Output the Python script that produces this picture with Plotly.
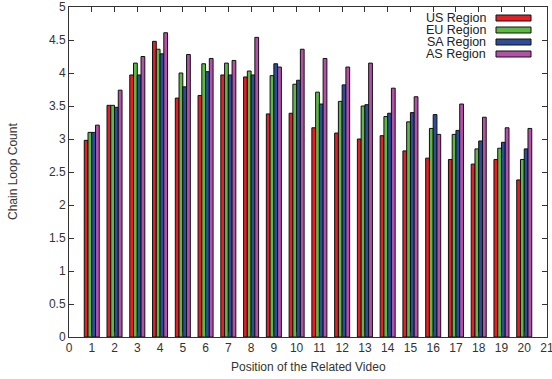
import plotly.graph_objects as go

positions = list(range(1, 21))
us_region = [2.98, 3.51, 3.97, 4.48, 3.62, 3.66, 3.97, 3.94, 3.38, 3.39,
             3.17, 3.09, 3.00, 3.05, 2.82, 2.71, 2.69, 2.62, 2.69, 2.38]
eu_region = [3.10, 3.51, 4.15, 4.36, 4.00, 4.14, 4.15, 4.03, 3.96, 3.83,
             3.71, 3.57, 3.50, 3.34, 3.26, 3.16, 3.07, 2.85, 2.86, 2.69]
sa_region = [3.10, 3.48, 3.97, 4.29, 3.79, 4.02, 3.97, 3.97, 4.14, 3.89,
             3.53, 3.82, 3.52, 3.39, 3.40, 3.37, 3.13, 2.97, 2.95, 2.85]
as_region = [3.21, 3.74, 4.25, 4.61, 4.28, 4.22, 4.19, 4.54, 4.09, 4.36,
             4.22, 4.09, 4.15, 3.77, 3.64, 3.07, 3.53, 3.33, 3.17, 3.16]
x_tick_values = list(range(0, 22))

series_names = ["US Region", "EU Region", "SA Region", "AS Region"]
series_values = [us_region, eu_region, sa_region, as_region]
colors = ["#e61e25", "#5cba44", "#2c4c9c", "#b550a8"]

W, H = 552, 379
L, R, T, B = 69, 5, 7, 42
pw, ph = W - L - R, H - T - B

FONT = "Liberation Sans, Arial, Helvetica, sans-serif"

fig = go.Figure()
for name, vals, col in zip(series_names, series_values, colors):
    fig.add_trace(go.Bar(x=positions, y=vals, name=name, marker_color=col,
                         marker_line_color="#111111", marker_line_width=1))

def px_x(p):
    return (p - L) / pw

def px_y(p):
    return (H - B - p) / ph

shapes = []
annotations = []
row_y = [18, 30, 42, 54]
for name, col, yy in zip(series_names, colors, row_y):
    shapes.append(dict(type="rect", xref="paper", yref="paper",
                       x0=px_x(496), x1=px_x(531), y0=px_y(yy + 3), y1=px_y(yy - 3),
                       fillcolor=col, line=dict(color="#111111", width=1)))
    annotations.append(dict(text=name, xref="paper", yref="paper",
                            x=px_x(487), y=px_y(yy), xanchor="right", yanchor="middle",
                            showarrow=False, borderpad=0,
                            font=dict(size=12.5, color="#222222", family=FONT)))

annotations.append(dict(text="Position of the Related Video", xref="paper", yref="paper",
                        x=0.5, y=px_y(367), xanchor="center", yanchor="middle",
                        showarrow=False, font=dict(size=12, color="#333333", family=FONT)))
annotations.append(dict(text="Chain Loop Count", xref="paper", yref="paper",
                        x=px_x(13), y=0.5, xanchor="center", yanchor="middle", textangle=-90,
                        showarrow=False, font=dict(size=12, color="#333333", family=FONT)))

fig.update_layout(
    width=W, height=H,
    margin=dict(l=L, r=R, t=T, b=B, autoexpand=False),
    paper_bgcolor="white", plot_bgcolor="white",
    barmode="group", bargap=0.34, bargroupgap=0,
    showlegend=False,
    shapes=shapes, annotations=annotations,
    font=dict(family=FONT, size=12, color="#333333"),
)
fig.update_xaxes(range=[0, 21], tickmode="array", tickvals=x_tick_values,
                 ticktext=[str(v) for v in x_tick_values], ticklabeloverflow="allow",
                 automargin=False,
                 ticks="inside", ticklen=5, tickcolor="#333333",
                 showline=True, linecolor="#333333", linewidth=1, mirror="ticks",
                 showgrid=False, zeroline=False, tickfont=dict(size=12, color="#333333"))
fig.update_yaxes(range=[0, 5], tickmode="linear", tick0=0, dtick=0.5,
                 automargin=False,
                 ticks="inside", ticklen=5, tickcolor="#333333",
                 showline=True, linecolor="#333333", linewidth=1, mirror="ticks",
                 showgrid=False, zeroline=False, tickfont=dict(size=12, color="#333333"))

fig.write_html("out.html")
